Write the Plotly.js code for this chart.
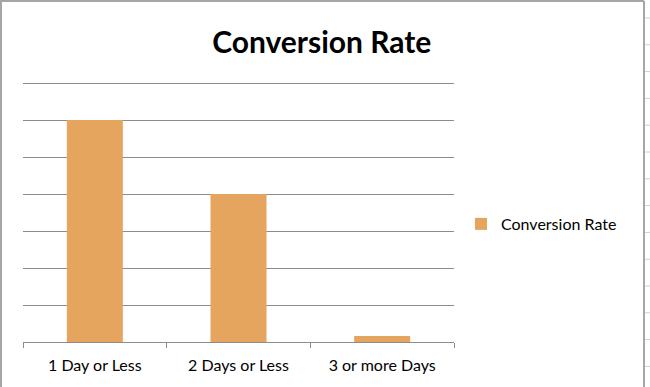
<!DOCTYPE html>
<html>
<head>
<meta charset="utf-8">
<script src="https://cdn.plot.ly/plotly-3.0.1.min.js"></script>
<style>html,body{margin:0;padding:0;background:#fff;}#chart{width:650px;height:387px;}</style>
</head>
<body>
<div id="chart"></div>
<script>
const categories = ["1 Day or Less", "2 Days or Less", "3 or more Days"];
const conversionRate = [6, 4, 0.16];
const seriesName = "Conversion Rate";

const L = 23, R = 454, T = 82, B = 342, W = 650, H = 387;
const px = x => (x - L) / (R - L);
const py = y => (B - y) / (B - T);

const shapes = [
  {type:'line', xref:'paper', yref:'paper', x0:px(1), x1:px(1), y0:py(1), y1:py(388), line:{color:'#a6a6a6', width:2}},
  {type:'line', xref:'paper', yref:'paper', x0:px(0), x1:px(644), y0:py(1), y1:py(1), line:{color:'#a6a6a6', width:2}},
  {type:'line', xref:'paper', yref:'paper', x0:px(644), x1:px(644), y0:py(1), y1:py(388), line:{color:'#a6a6a6', width:2}}
];
for (let y = 18; y < 387; y += 26.8) {
  shapes.push({type:'line', xref:'paper', yref:'paper', x0:px(645), x1:px(650), y0:py(y), y1:py(y), line:{color:'#d0d0d0', width:1}});
}

const data = [{
  type: 'bar',
  x: categories,
  y: conversionRate,
  name: seriesName,
  marker: {color: '#E6A55E'},
  width: 0.39,
  showlegend: true
}];

const layout = {
  width: W, height: H,
  margin: {l: L, r: W - R, t: T, b: H - B, pad: 0},
  paper_bgcolor: '#fff', plot_bgcolor: '#fff',
  font: {family: 'Lato, "Open Sans", sans-serif', size: 16, color: '#000'},
  title: {text: '<b>Conversion Rate</b>', font: {size: 30, family: 'Lato, sans-serif', color: '#000'},
          x: 0.495, xref: 'container', xanchor: 'center', y: 1 - 42/387, yref: 'container', yanchor: 'middle'},
  showlegend: true,
  legend: {x: px(461), y: py(224), xanchor: 'left', yanchor: 'middle', font: {size: 16},
           itemwidth: 30, bgcolor: 'rgba(0,0,0,0)'},
  xaxis: {showline: true, linecolor: '#8c8c8c', linewidth: 1, ticks: 'outside', tickson: 'boundaries',
          ticklen: 5, tickcolor: '#8c8c8c', showgrid: false, tickfont: {size: 16}, ticklabelstandoff: 9,
          fixedrange: true},
  yaxis: {range: [0, 7.03], tickvals: [0, 1, 2, 3, 4, 5, 6, 7], showticklabels: false, showgrid: true,
          gridcolor: '#8c8c8c', gridwidth: 1, zeroline: false, showline: false, fixedrange: true},
  bargap: 0.61,
  shapes: shapes
};

Plotly.newPlot('chart', data, layout, {displayModeBar: false, staticPlot: true});
</script>
</body>
</html>
